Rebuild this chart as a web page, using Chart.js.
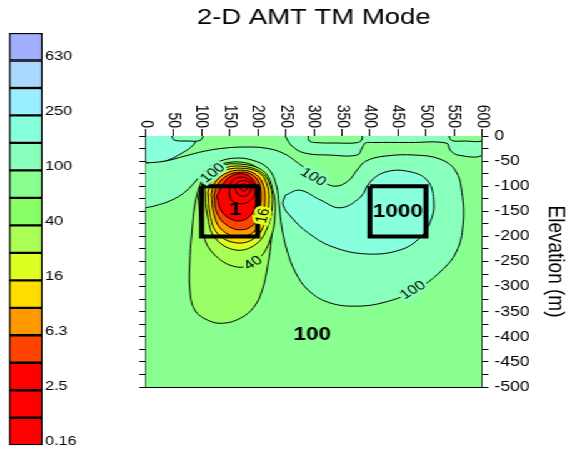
<!DOCTYPE html>
<html>
<head>
<meta charset="utf-8">
<script src="https://cdn.jsdelivr.net/npm/chart.js@4/dist/chart.umd.min.js"></script>
<style>
  html, body { margin: 0; padding: 0; background: #fff; }
  /* the reference is stretched sideways, so the whole drawing is too */
  #stretch { position: absolute; left: 0; top: 0; width: 455.2px; height: 455px;
             transform: scaleX(1.25); transform-origin: 0 0; }
  #mainBox { position: absolute; left: 0; top: 0; width: 455.2px; height: 455px; }
  #barBox  { position: absolute; left: 0; top: 0; width: 64px; height: 455px; }
</style>
</head>
<body>
<div id="stretch">
  <div id="mainBox"><canvas id="main"></canvas></div>
  <div id="barBox"><canvas id="bar"></canvas></div>
</div>
<script>
// colour scale, bottom to top (ohm-m bands)
const bandColors = ['#ff0000', '#ff0000', '#ff0000', '#ff4400', '#ff9900', '#ffdd00', '#ddff22',
  '#aaff55', '#88ff66', '#88ff90', '#88ffbb', '#88ffdd', '#99eeff', '#aad8ff', '#a0b0ff'];
const bandTickLabels = ['0.16', '', '2.5', '', '6.3', '', '16', '', '40', '', '100', '', '250', '', '630', ''];

// contour outlines, [distance m, elevation m]
const plotExtent = [[0, 0], [600, 0], [600, -500], [0, -500]];
const topLeftPocket = [[0, 0], [0, -50], [17, -54], [40, -48], [65, -34], [85, -18], [94, 0]];
const surfaceMint = [[249, 0], [261, -20], [284, -34], [329, -38], [377, -38], [386, -24], [392, -14],
  [404, -13], [470, -13], [536, -14], [543, -28], [557, -38], [600, -38], [600, 0]];
const surfaceGreenA = [[290, 0], [292, -10], [302, -13], [340, -14], [379, -13], [386, -6], [386, 0]];
const surfaceGreenB = [[541, 0], [546, -9], [570, -10], [600, -10], [600, 0]];
const surfaceMintB = [[47, 0], [51, -8], [75, -10], [97, -9], [103, 0]];
const contour100 = [[0, -54], [35, -50], [70, -40], [106, -30], [142, -24], [177, -22], [213, -24],
  [245, -34], [272, -54], [293, -72], [315, -90], [338, -100], [361, -90], [377, -68], [393, -50],
  [427, -40], [481, -38], [525, -46], [552, -68], [564, -112], [566, -177], [554, -231], [525, -271],
  [481, -307], [427, -331], [374, -339], [325, -331], [290, -307], [267, -271], [252, -227],
  [243, -183], [238, -137], [233, -98], [218, -64], [190, -48], [161, -44], [133, -50], [110, -64],
  [94, -84], [70, -112], [44, -129], [17, -139], [0, -143]];
const contour160 = [[249, -118], [275, -108], [311, -127], [347, -143], [383, -122], [400, -92],
  [427, -72], [466, -70], [502, -88], [514, -133], [507, -173], [489, -203], [454, -227], [395, -235],
  [334, -221], [290, -193], [261, -163], [245, -137], [249, -118]];
const contour63 = [[110, -72], [97, -98], [88, -137], [83, -187], [79, -247], [79, -307], [88, -347],
  [111, -367], [138, -373], [169, -363], [193, -341], [208, -307], [218, -257], [224, -207],
  [226, -157], [222, -112], [213, -80], [195, -60], [169, -52], [142, -54], [120, -62], [110, -72]];
const contour40 = [[94, -122], [101, -187], [120, -233], [163, -261], [199, -247], [222, -207],
  [231, -153], [227, -108], [210, -70], [169, -56], [129, -62], [104, -90], [94, -122]];
const contour25 = [[106, -108], [110, -157], [124, -203], [160, -227], [195, -217], [217, -183],
  [226, -137], [222, -98], [206, -72], [169, -60], [135, -66], [113, -84], [106, -108]];
const contour16 = [[111, -112], [115, -157], [129, -195], [163, -213], [195, -203], [213, -171],
  [220, -127], [215, -92], [201, -72], [169, -64], [138, -70], [119, -88], [111, -112]];
const contour10 = [[117, -116], [122, -157], [136, -187], [165, -201], [193, -191], [208, -161],
  [213, -124], [208, -92], [193, -74], [169, -68], [144, -74], [124, -92], [117, -116]];
const contour6 = [[122, -118], [127, -153], [144, -177], [169, -187], [192, -177], [202, -149],
  [206, -118], [201, -90], [188, -76], [169, -72], [147, -78], [129, -96], [122, -118]];
const contour4 = [[127, -120], [135, -149], [151, -165], [170, -169], [188, -157], [197, -133],
  [199, -108], [192, -88], [177, -76], [156, -78], [138, -96], [127, -120]];
const contour2 = [[149, -112], [154, -129], [172, -135], [190, -125], [195, -106], [186, -88],
  [170, -82], [154, -90], [149, -112]];
const contour1 = [[160, -106], [165, -116], [176, -120], [186, -112], [188, -100], [181, -90],
  [169, -90], [161, -96], [160, -106]];
const contour05 = [[169, -106], [176, -110], [181, -104], [177, -96], [170, -98], [169, -106]];
const conductorBox = [[100, -100], [200, -100], [200, -200], [100, -200], [100, -100]];
const resistorBox = [[400, -100], [500, -100], [500, -200], [400, -200], [400, -100]];

// labels on the section
const contourLabelText = ['100', '100', '100', '40', '16'];
const contourLabelX = [120, 299, 477, 192, 210];
const contourLabelY = [-74, -82, -307, -253, -159];
const anomalyText = ['1', '1000', '100'];
const anomalyX = [160, 450, 297];
const anomalyY = [-147, -151, -397];

const FONT = 'Arial, "Liberation Sans", sans-serif';
Chart.defaults.font.family = FONT;
Chart.defaults.color = '#000';

const labelAngles = [-43, 34, -36, -36, -78];
const labelKnock = ['#88ffbb', '#88ffbb', '#88ffbb', '#99ff66', '#ddff22'];

// bottom to top drawing order
const layers = [
  [plotExtent, '#88ff90', 0],
  [topLeftPocket, '#88ffdd', 1],
  [surfaceMint, '#88ffbb', 1],
  [surfaceGreenA, '#88ff90', 1],
  [surfaceGreenB, '#88ff90', 1],
  [surfaceMintB, '#88ffbb', 1],
  [contour100, '#88ffbb', 1],
  [contour160, '#88ffdd', 1],
  [contour63, '#99ff66', 1],
  [contour40, '#aaff55', 1],
  [contour25, '#ddff22', 1],
  [contour16, '#ffdd00', 1],
  [contour10, '#ff9900', 1],
  [contour6, '#ff4400', 1],
  [contour4, '#ff0000', 1],
  [contour2, '#ff0000', 1],
  [contour1, '#ff0000', 1],
  [contour05, '#ff0000', 1],
];

const datasets = layers.map(([pts, color, bw]) => ({
  data: pts.map(p => ({ x: p[0], y: p[1] })),
  backgroundColor: color,
  borderColor: '#000',
  borderWidth: bw,
  fill: 'shape',
  tension: 0.4,
  xAxisID: 'x',
  yAxisID: 'y',
}));
[conductorBox, resistorBox].forEach(pts => datasets.push({
  data: pts.map(p => ({ x: p[0], y: p[1] })),
  borderColor: '#000',
  borderWidth: 4,
  fill: false,
  tension: 0,
  xAxisID: 'x',
  yAxisID: 'y',
}));
datasets.reverse(); // first dataset is painted last

const sectionText = {
  id: 'sectionText',
  afterDatasetsDraw(chart) {
    const { ctx, scales: { x, y } } = chart;
    ctx.save();
    ctx.textAlign = 'center';
    ctx.textBaseline = 'middle';
    contourLabelText.forEach((t, i) => {
      ctx.save();
      ctx.translate(x.getPixelForValue(contourLabelX[i]), y.getPixelForValue(contourLabelY[i]));
      ctx.rotate(labelAngles[i] * Math.PI / 180);
      ctx.font = '13px ' + FONT;
      ctx.lineWidth = 5;
      ctx.strokeStyle = labelKnock[i];
      ctx.strokeText(t, 0, 0);
      ctx.fillStyle = '#000';
      ctx.fillText(t, 0, 0);
      ctx.restore();
    });
    ctx.font = 'bold 18px ' + FONT;
    ctx.fillStyle = '#000';
    anomalyText.forEach((t, i) => {
      ctx.fillText(t, x.getPixelForValue(anomalyX[i]), y.getPixelForValue(anomalyY[i]));
    });
    ctx.restore();
  }
};

new Chart(document.getElementById('main'), {
  type: 'line',
  data: { datasets },
  options: {
    responsive: true,
    maintainAspectRatio: false,
    animation: false,
    layout: { padding: { left: 0, right: 0, top: 0, bottom: 68 } },
    elements: { point: { radius: 0 } },
    plugins: {
      legend: { display: false },
      tooltip: { enabled: false },
      title: {
        display: true, text: '2-D AMT TM Mode', fullSize: false,
        font: { size: 22, weight: 'normal' }, color: '#000',
        padding: { top: 5, bottom: 0 },
      },
    },
    scales: {
      x: {
        type: 'linear', position: 'top', min: 0, max: 600, z: 1,
        ticks: { stepSize: 50, autoSkip: false, minRotation: -90, maxRotation: -90,
                 font: { size: 14 }, color: '#000', padding: 1, labelOffset: -16.8 },
        grid: { drawOnChartArea: false, tickLength: 7, color: '#000' },
        border: { color: '#000' },
        afterFit(s) {
          s.height = 104.6;
          s._getXAxisLabelAlignment = () => 'right';
        },
      },
      xb: {
        type: 'linear', position: 'bottom', min: 0, max: 600, z: 1,
        ticks: { display: false },
        grid: { display: false },
        border: { display: true, color: '#000' },
        afterFit(s) { s.height = 0; },
      },
      y: {
        type: 'linear', position: 'right', min: -500, max: 0, z: 1,
        ticks: { stepSize: 25, autoSkip: false, font: { size: 14 }, color: '#000', padding: 5,
                 callback: v => (v % 50 === 0 ? String(v) : '') },
        grid: { drawOnChartArea: false, tickLength: 5, color: '#000' },
        border: { color: '#000' },
        title: { display: true, text: 'Elevation (m)', font: { size: 19 }, color: '#000', padding: 0 },
        afterFit(s) { s.width = 69.6; },
      },
      yl: {
        type: 'linear', position: 'left', min: -500, max: 0, z: 1,
        ticks: { display: false, stepSize: 25, autoSkip: false },
        grid: { drawOnChartArea: false, tickLength: 5, color: '#000' },
        border: { color: '#000' },
        afterFit(s) { s.width = 116.4; },
      },
    },
  },
  plugins: [sectionText],
});

new Chart(document.getElementById('bar'), {
  type: 'bar',
  data: {
    labels: [''],
    datasets: bandColors.map(c => ({
      data: [1], backgroundColor: c, borderColor: '#000', borderWidth: 1.5,
      borderSkipped: false, barPercentage: 1, categoryPercentage: 1,
    })),
  },
  options: {
    responsive: true,
    maintainAspectRatio: false,
    animation: false,
    layout: { padding: { left: 7.2, top: 33, bottom: 6, right: 0 } },
    plugins: { legend: { display: false }, tooltip: { enabled: false } },
    scales: {
      x: { stacked: true, display: false },
      y: {
        stacked: true, position: 'right', min: 0, max: 15,
        ticks: { stepSize: 1, autoSkip: false, padding: 2, labelOffset: -4,
                 font: { size: 13 }, color: '#000', callback: v => bandTickLabels[v] ?? '' },
        grid: { display: false, drawTicks: false },
        border: { display: false },
        afterFit(s) { s.width = 30; },
      },
    },
  },
});
</script>
</body>
</html>
